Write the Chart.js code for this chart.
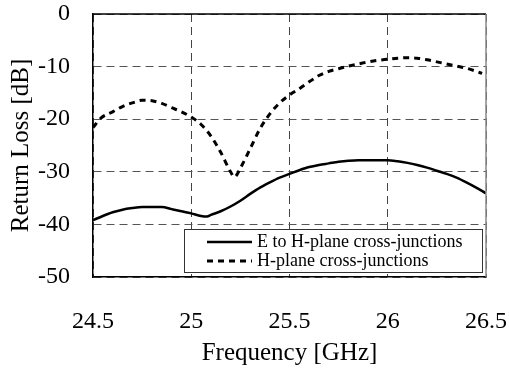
<!DOCTYPE html>
<html>
<head>
<meta charset="utf-8">
<script src="https://cdn.jsdelivr.net/npm/chart.js@4/dist/chart.umd.min.js"></script>
<style>
  html, body { margin: 0; padding: 0; background: #fff; }
  #wrap { width: 509px; height: 374px; }
</style>
</head>
<body>
<div id="wrap"><canvas id="rlChart" width="509" height="374"></canvas></div>
<script>
// ================= DATA =================
const seriesNames = ["E to H-plane cross-junctions", "H-plane cross-junctions"];

const freqE = [24.5, 24.55, 24.6, 24.65, 24.7, 24.75, 24.8, 24.85, 24.9, 24.95, 25.0, 25.05, 25.08,
  25.1, 25.15, 25.2, 25.25, 25.3, 25.35, 25.4, 25.45, 25.5, 25.55, 25.6, 25.65, 25.7, 25.75, 25.8,
  25.85, 25.9, 25.95, 26.0, 26.05, 26.1, 26.15, 26.2, 26.25, 26.3, 26.35, 26.4, 26.45, 26.5];
const lossE = [-39.2, -38.4, -37.7, -37.2, -36.9, -36.7, -36.7, -36.7, -37.1, -37.5, -37.9, -38.4, -38.5,
  -38.2, -37.5, -36.6, -35.5, -34.2, -33.0, -32.0, -31.1, -30.4, -29.7, -29.1, -28.7, -28.4, -28.1, -27.9,
  -27.8, -27.8, -27.8, -27.8, -28.0, -28.3, -28.7, -29.2, -29.8, -30.4, -31.1, -32.0, -33.0, -34.1];

const freqH = [24.5, 24.54, 24.6, 24.65, 24.7, 24.75, 24.8, 24.85, 24.9, 24.95, 25.0, 25.05, 25.1,
  25.15, 25.2, 25.22, 25.25, 25.3, 25.35, 25.4, 25.45, 25.5, 25.55, 25.6, 25.65, 25.7, 25.75, 25.8,
  25.85, 25.9, 25.95, 26.0, 26.05, 26.1, 26.15, 26.2, 26.25, 26.3, 26.35, 26.4, 26.45, 26.48];
const lossH = [-21.6, -19.8, -18.6, -17.6, -16.9, -16.4, -16.5, -17.0, -17.8, -18.6, -19.6, -21.0, -23.2,
  -26.3, -30.0, -31.0, -29.3, -25.6, -21.8, -19.0, -16.9, -15.4, -14.2, -12.9, -11.7, -10.9, -10.4, -9.9,
  -9.5, -9.1, -8.8, -8.6, -8.4, -8.3, -8.4, -8.7, -9.1, -9.5, -9.9, -10.3, -10.9, -11.3];

const xTicks = [24.5, 25, 25.5, 26, 26.5];
const yTicks = [0, -10, -20, -30, -40, -50];

const FONT = "'Liberation Serif', 'Times New Roman', serif";

function toPoints(xs, ys) {
  return xs.map((x, i) => ({ x: x, y: ys[i] }));
}

// ================= FRAME + LEGEND =================
const framePlugin = {
  id: "frame",
  afterDraw(chart) {
    const ctx = chart.ctx;
    const a = chart.chartArea;
    ctx.save();
    ctx.setLineDash([]);
    ctx.lineWidth = 1.5;
    ctx.strokeStyle = "#000";
    ctx.beginPath();
    ctx.moveTo(a.left, a.top);
    ctx.lineTo(a.right, a.top);
    ctx.stroke();
    ctx.strokeStyle = "#888";
    ctx.beginPath();
    ctx.moveTo(a.right, a.top);
    ctx.lineTo(a.right, a.bottom);
    ctx.stroke();

    // legend box in the lower right corner
    const bx = 184, by = 229, bw = 298, bh = 43;
    ctx.fillStyle = "#fff";
    ctx.fillRect(bx, by, bw, bh);
    ctx.lineWidth = 1;
    ctx.strokeStyle = "#333";
    ctx.strokeRect(bx + 0.5, by + 0.5, bw, bh);

    ctx.font = "18px " + FONT;
    ctx.textBaseline = "middle";
    ctx.fillStyle = "#000";
    chart.data.datasets.forEach((ds, i) => {
      const ly = by + 13 + i * 19;
      ctx.strokeStyle = "#000";
      ctx.lineWidth = ds.borderWidth;
      ctx.setLineDash(ds.borderDash || []);
      ctx.beginPath();
      ctx.moveTo(bx + 23, ly);
      ctx.lineTo(bx + 68, ly);
      ctx.stroke();
      ctx.setLineDash([]);
      ctx.fillText(ds.label, bx + 73, ly);
    });
    ctx.restore();
  }
};

// ================= CHART =================
new Chart(document.getElementById("rlChart"), {
  type: "line",
  data: {
    datasets: [
      {
        label: seriesNames[0],
        data: toPoints(freqE, lossE),
        borderColor: "#000",
        borderWidth: 2.5,
        pointRadius: 0,
        cubicInterpolationMode: "monotone",
        fill: false
      },
      {
        label: seriesNames[1],
        data: toPoints(freqH, lossH),
        borderColor: "#000",
        borderWidth: 3,
        borderDash: [6, 5],
        pointRadius: 0,
        cubicInterpolationMode: "monotone",
        fill: false
      }
    ]
  },
  options: {
    animation: false,
    responsive: false,
    devicePixelRatio: 1,
    layout: { padding: { top: 14, right: 23, left: 0, bottom: 0 } },
    plugins: {
      legend: { display: false },
      tooltip: { enabled: false }
    },
    scales: {
      x: {
        type: "linear",
        min: 24.5,
        max: 26.5,
        afterFit: s => { s.height = 97; s.paddingLeft = 0; s.paddingRight = 0; },
        afterBuildTicks: s => { s.ticks = xTicks.map(v => ({ value: v })); },
        ticks: {
          color: "#000",
          font: { family: FONT, size: 24 },
          padding: 30,
          maxRotation: 0,
          callback: v => String(v)
        },
        grid: {
          color: "#444",
          lineWidth: 1,
          drawTicks: false
        },
        border: { color: "#000", width: 1.5, dash: [8, 5] },
        title: {
          display: true,
          text: "Frequency [GHz]",
          color: "#000",
          font: { family: FONT, size: 25 },
          padding: { top: 0, bottom: 6 }
        }
      },
      y: {
        min: -50,
        max: 0,
        afterFit: s => { s.width = 93; s.paddingTop = 0; s.paddingBottom = 0; },
        afterBuildTicks: s => { s.ticks = yTicks.map(v => ({ value: v })); },
        ticks: {
          color: "#000",
          font: { family: FONT, size: 24 },
          padding: 23,
          callback: v => String(v)
        },
        grid: {
          color: "#555",
          lineWidth: 1,
          drawTicks: false
        },
        border: { color: "#000", width: 1.5, dash: [8, 5] },
        title: {
          display: true,
          text: "Return Loss [dB]",
          color: "#000",
          font: { family: FONT, size: 25 },
          padding: { top: 6, bottom: 0 }
        }
      }
    }
  },
  plugins: [framePlugin]
});
</script>
</body>
</html>
